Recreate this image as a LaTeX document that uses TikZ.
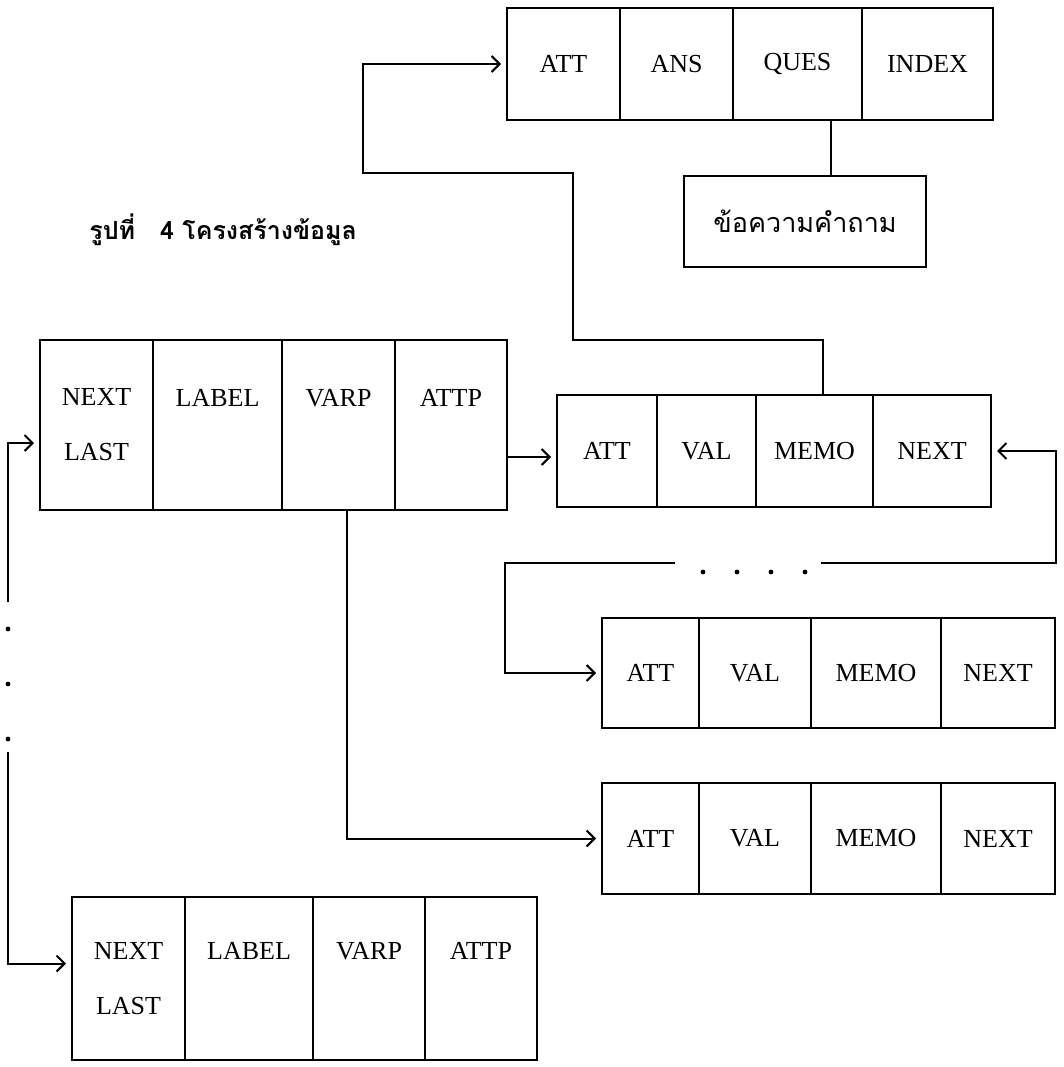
\documentclass[tikz,border=0pt]{standalone}
\usepackage{fontspec}
\setmainfont{Liberation Serif}
\newfontfamily\thaifont[Script=Thai]{Loma}
\usetikzlibrary{arrows.meta,positioning}

\begin{document}
\begin{tikzpicture}[x=1pt, y=-1pt, line width=2pt, node distance=0pt,
    >={Straight Barb[length=8pt,width=16pt]},
    cell/.style={draw, outer sep=0pt, inner sep=0pt, minimum height=112pt, font=\fontsize{26}{30}\selectfont},
    tallcell/.style={cell, minimum height=170pt, align=center, font=\fontsize{26}{55}\selectfont},
    link/.style={->, shorten >=6pt}]
    \useasboundingbox (0,0) rectangle (1064,1067);

    % Title
    \node (title) [anchor=west, font=\thaifont\bfseries\fontsize{25}{30}\selectfont] at (85,230) {รูปที่\quad 4 โครงสร้างข้อมูล};

    % Question record
    \node (qatt) [cell, minimum width=113pt, anchor=north west] at (507,8) {ATT};
    \node (qans) [cell, minimum width=113pt, right=of qatt] {ANS};
    \node (qques) [cell, minimum width=129pt, right=of qans] {QUES};
    \node (qindex) [cell, minimum width=131pt, right=of qques] {INDEX};
    \node (qtext) [draw, minimum width=242pt, minimum height=91pt, anchor=north west, font=\thaifont\fontsize{27}{30}\selectfont] at (683,175) {ข้อความคำถาม};

    % Variable records
    \node (vnext1) [tallcell, minimum width=113pt, anchor=north west] at (40,340) {NEXT\\LAST};
    \node (vlabel1) [tallcell, minimum width=129pt, right=of vnext1] {LABEL\\\vphantom{L}};
    \node (vvarp1) [tallcell, minimum width=113pt, right=of vlabel1] {VARP\\\vphantom{L}};
    \node (vattp1) [tallcell, minimum width=112pt, right=of vvarp1] {ATTP\\\vphantom{L}};

    \node (vnext2) [tallcell, minimum width=113pt, minimum height=163pt, anchor=north west] at (72,897) {NEXT\\LAST};
    \node (vlabel2) [tallcell, minimum width=128pt, minimum height=163pt, right=of vnext2] {LABEL\\\vphantom{L}};
    \node (vvarp2) [tallcell, minimum width=112pt, minimum height=163pt, right=of vlabel2] {VARP\\\vphantom{L}};
    \node (vattp2) [tallcell, minimum width=112pt, minimum height=163pt, right=of vvarp2] {ATTP\\\vphantom{L}};

    % Attribute records
    \node (aatt1) [cell, minimum width=100pt, anchor=north west] at (557,395) {ATT};
    \node (aval1) [cell, minimum width=99pt, right=of aatt1] {VAL};
    \node (amemo1) [cell, minimum width=117pt, right=of aval1] {MEMO};
    \node (anext1) [cell, minimum width=118pt, right=of amemo1] {NEXT};

    \node (aatt2) [cell, minimum width=97pt, minimum height=110pt, anchor=north west] at (602,618) {ATT};
    \node (aval2) [cell, minimum width=112pt, minimum height=110pt, right=of aatt2] {VAL};
    \node (amemo2) [cell, minimum width=130pt, minimum height=110pt, right=of aval2] {MEMO};
    \node (anext2) [cell, minimum width=114pt, minimum height=110pt, right=of amemo2] {NEXT};

    \node (aatt3) [cell, minimum width=97pt, minimum height=111pt, anchor=north west] at (602,783) {ATT};
    \node (aval3) [cell, minimum width=112pt, minimum height=111pt, right=of aatt3] {VAL};
    \node (amemo3) [cell, minimum width=130pt, minimum height=111pt, right=of aval3] {MEMO};
    \node (anext3) [cell, minimum width=114pt, minimum height=111pt, right=of amemo3] {NEXT};

    % Gaps for the dotted parts
    \coordinate (gapl) at (675,563);
    \coordinate (gapr) at (821,563);
    \coordinate (gapt) at (8,602);
    \coordinate (gapb) at (8,752);

    % Links
    \draw ([xshift=33pt]qques.south) -- ([xshift=33pt]qques.south |- qtext.north);
    \draw[link] ([xshift=8pt]amemo1.north) |- (573,340) |- (363,173) |- (qatt.west);
    \draw[link] ([yshift=-6pt]vattp1.east |- aatt1.west) -- ([yshift=-6pt]aatt1.west);
    \draw[link] (gapr) -| ([xshift=65pt]anext1.east) -- (anext1.east);
    \draw[link] (gapl) -| ([xshift=-97pt]aatt2.west) -- (aatt2.west);
    \draw[link] ([xshift=8pt]vvarp1.south) |- (aatt3.west);
    \draw[link] (gapt) |- ([yshift=-18pt]vnext1.west);
    \draw[link] (gapb) |- ([yshift=15pt]vnext2.west);

    % Dots
    \foreach \x in {703,737,771,805} \fill (\x,572) circle (2.4pt);
    \foreach \y in {629,684,739} \fill (8,\y) circle (2.4pt);
\end{tikzpicture}
\end{document}
